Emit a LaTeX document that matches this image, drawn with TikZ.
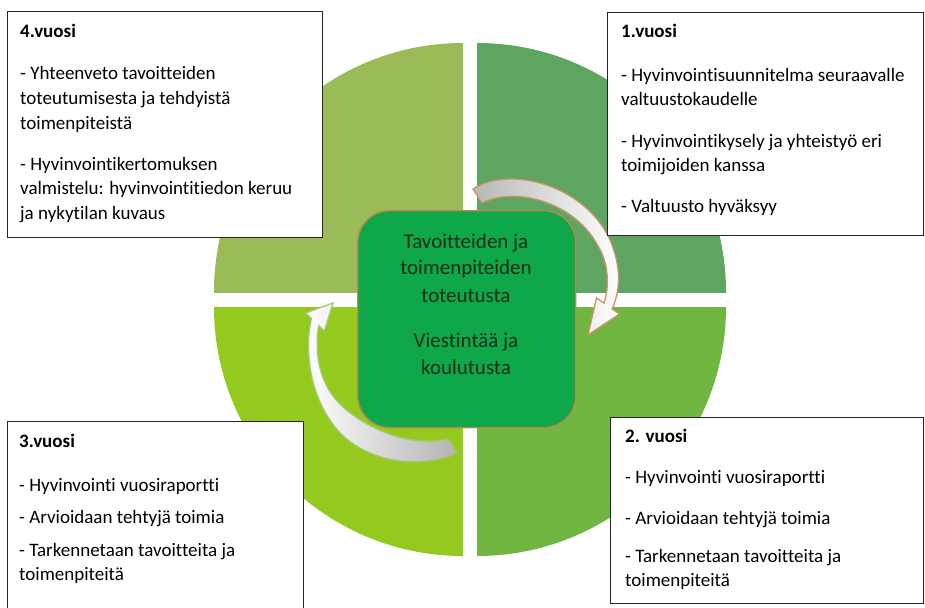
\documentclass[tikz,border=0pt]{standalone}
\usepackage{fontspec}
\setmainfont{Carlito}[Ligatures=NoCommon]
\definecolor{qtl}{RGB}{155,187,89}
\definecolor{qtr}{RGB}{95,165,98}
\definecolor{qbl}{RGB}{148,202,30}
\definecolor{qbr}{RGB}{112,182,65}
\definecolor{cgreen}{RGB}{14,168,74}
\definecolor{ctan}{RGB}{185,135,80}
\definecolor{ctext}{RGB}{18,45,24}
\definecolor{agreen}{RGB}{165,200,115}
\definecolor{atan}{RGB}{200,150,100}
\begin{document}
\begin{tikzpicture}[x=1pt,y=-1pt,
  panel/.style={draw=black!85, line width=0.9pt, fill=white, anchor=north west, inner sep=0pt},
  txt/.style={anchor=base west, inner sep=0pt, font=\fontsize{19}{22}\selectfont, text=black},
  ttl/.style={txt, font=\fontsize{19}{22}\selectfont\bfseries},
  ctxt/.style={anchor=base, inner sep=0pt, font=\fontsize{21}{24}\selectfont, text=ctext}]
\useasboundingbox (0,0) rectangle (925,607);
\clip (0,0) rectangle (925,607);
% quadrants
\begin{scope}
\clip (463,292) rectangle (200,30);
\fill[qtl] (463,292) circle[radius=249pt];
\end{scope}
\begin{scope}
\clip (477,292) rectangle (740,30);
\fill[qtr] (477,292) circle[radius=249pt];
\end{scope}
\begin{scope}
\clip (463,307) rectangle (200,570);
\fill[qbl] (463,307) circle[radius=249pt];
\end{scope}
\begin{scope}
\clip (477,307) rectangle (740,570);
\fill[qbr] (477,307) circle[radius=249pt];
\end{scope}
% center box
\node[draw=ctan, line width=1.4pt, fill=cgreen, rounded corners=32pt, minimum width=218pt, minimum height=217pt, anchor=north west, inner sep=0pt] (core) at (357,210) {};
\node[ctxt] (c1) at (466,248) {Tavoitteiden ja};
\node[ctxt] (c2) at (466,274.5) {toimenpiteiden};
\node[ctxt] (c3) at (466,302.5) {toteutusta};
\node[ctxt] (c4) at (466,347.5) {Viestintää ja};
\node[ctxt] (c5) at (466,374) {koulutusta};
% arrow 1 (top right)
\shade[draw=atan, line width=1.3pt, left color=black!28, middle color=black!8, right color=white]
  (473,189) .. controls (510,165) and (585,185) .. (610,240)
  .. controls (622,268) and (620,292) .. (612,309)
  -- (619.5,314) -- (588,335) -- (596.5,298) -- (604,303)
  .. controls (610,285) and (608,262) .. (598,246)
  .. controls (575,202) and (515,186) .. (482,203) -- cycle;
% arrow 2 (bottom left)
\shade[draw=agreen, line width=1.3pt, left color=white, middle color=white, right color=black!30]
  (457,453) .. controls (415,472) and (355,460) .. (330,420)
  .. controls (308,388) and (305,345) .. (311.4,318.5)
  -- (305.6,313) -- (333,303) -- (324.4,331) -- (318.6,325.5)
  .. controls (314,355) and (320,385) .. (341,405)
  .. controls (365,428) and (410,448) .. (448,439) -- cycle;
% panels
\node[panel, minimum width=315pt, minimum height=226pt] (p4) at (7,11) {};
\node[panel, minimum width=316pt, minimum height=223pt] (p1) at (607,12) {};
\node[panel, minimum width=296pt, minimum height=200pt] (p3) at (7,421) {};
\node[panel, minimum width=313pt, minimum height=186pt] (p2) at (610,417) {};
% panel 4 text
\node[ttl] (t4a) at (20,38) {4.vuosi};
\node[txt] (t4b) at (20,80) {- Yhteenveto tavoitteiden};
\node[txt] (t4c) at (20,104.5) {toteutumisesta ja tehdyistä};
\node[txt] (t4d) at (20,129) {toimenpiteistä};
\node[txt] (t4e) at (20,170) {- Hyvinvointikertomuksen};
\node[txt] (t4f) at (20,194.5) {valmistelu: hyvinvointitiedon keruu};
\node[txt] (t4g) at (20,219) {ja nykytilan kuvaus};
% panel 1 text
\node[ttl] (t1a) at (621,38) {1.vuosi};
\node[txt] (t1b) at (621,81.5) {- Hyvinvointisuunnitelma seuraavalle};
\node[txt] (t1c) at (621,106) {valtuustokaudelle};
\node[txt] (t1d) at (621,147) {- Hyvinvointikysely ja yhteistyö eri};
\node[txt] (t1e) at (621,171.5) {toimijoiden kanssa};
\node[txt] (t1f) at (621,212.5) {- Valtuusto hyväksyy};
% panel 3 text
\node[ttl] (t3a) at (19,447.5) {3.vuosi};
\node[txt] (t3b) at (19,491.5) {- Hyvinvointi vuosiraportti};
\node[txt] (t3c) at (19,523) {- Arvioidaan tehtyjä toimia};
\node[txt] (t3d) at (19,556.5) {- Tarkennetaan tavoitteita ja};
\node[txt] (t3e) at (19,580) {toimenpiteitä};
% panel 2 text
\node[ttl] (t2a) at (625,442.5) {2. vuosi};
\node[txt] (t2b) at (625,483) {- Hyvinvointi vuosiraportti};
\node[txt] (t2c) at (625,524) {- Arvioidaan tehtyjä toimia};
\node[txt] (t2d) at (625,562) {- Tarkennetaan tavoitteita ja};
\node[txt] (t2e) at (625,586.5) {toimenpiteitä};
\end{tikzpicture}
\end{document}
